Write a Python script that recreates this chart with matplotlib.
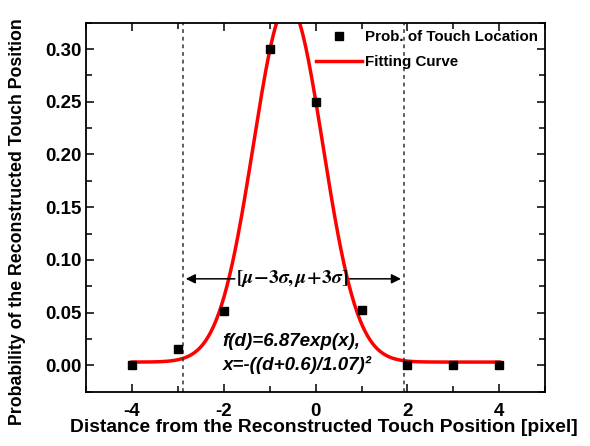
import numpy as np
import matplotlib
matplotlib.use("Agg")
import matplotlib.pyplot as plt
from matplotlib.ticker import MultipleLocator

plt.rcParams['font.family'] = ['Liberation Sans', 'DejaVu Sans']
plt.rcParams['font.weight'] = 'bold'
plt.rcParams['mathtext.fontset'] = 'stix'
plt.rcParams['axes.unicode_minus'] = False

# measured probabilities
distance = [-4, -3, -2, -1, 0, 1, 2, 3, 4]
prob = [0.0, 0.0155, 0.051, 0.30, 0.25, 0.052, 0.0, 0.0, 0.0]

# gaussian fit parameters
fit_amp = 0.34
fit_mu = -0.6
fit_w = 1.07
fit_base = 0.003

# 3 sigma bounds
bound_lo = -2.89
bound_hi = 1.92

fig = plt.figure(figsize=(5.9, 4.46), dpi=100)
ax = fig.add_axes([0.146, 0.122, 0.778, 0.827])

d = np.linspace(-4, 4, 400)
fit = fit_base + fit_amp * np.exp(-((d - fit_mu) / fit_w) ** 2)

ax.plot(distance, prob, 's', color='black', markersize=6, label='Prob. of Touch Location', zorder=3)
ax.plot(d, fit, color='red', lw=2.5, label='Fitting Curve', zorder=2)

ax.axvline(bound_lo, color='#333333', lw=1.1, linestyle=(0, (2.5, 2.5)))
ax.axvline(bound_hi, color='#333333', lw=1.1, linestyle=(0, (2.5, 2.5)))

ax.text(-0.51, 0.082, r'$[\mu\!-\!3\sigma,\mu\!+\!3\sigma]$', fontsize=14,
        ha='center', va='center')
ax.annotate('', xy=(bound_lo, 0.082), xytext=(-1.7, 0.082),
            arrowprops=dict(arrowstyle='-|>', color='black', lw=1.1, mutation_scale=14))
ax.annotate('', xy=(bound_hi, 0.082), xytext=(0.68, 0.082),
            arrowprops=dict(arrowstyle='-|>', color='black', lw=1.1, mutation_scale=14))

ax.text(-2.03, 0.0225, 'f(d)=6.87exp(x),', fontsize=13.5, fontstyle='italic',
        fontweight='bold', ha='left', va='center')
ax.text(-2.03, 0.0005, 'x=-((d+0.6)/1.07)\u00b2', fontsize=13.5, fontstyle='italic',
        fontweight='bold', ha='left', va='center')

ax.set_xlim(-5, 5)
ax.set_ylim(-0.025, 0.325)
ax.xaxis.set_major_locator(MultipleLocator(2))
ax.xaxis.set_minor_locator(MultipleLocator(1))
ax.yaxis.set_major_locator(MultipleLocator(0.05))
ax.yaxis.set_minor_locator(MultipleLocator(0.025))
ax.set_yticks([0.0, 0.05, 0.10, 0.15, 0.20, 0.25, 0.30])
ax.set_yticklabels(['0.00', '0.05', '0.10', '0.15', '0.20', '0.25', '0.30'])
ax.tick_params(which='both', direction='in', top=True, right=True, width=1.1, labelsize=13.5)
ax.tick_params(axis='x', which='major', pad=8)
ax.tick_params(which='major', length=6)
ax.tick_params(which='minor', length=4)
for s in ax.spines.values():
    s.set_linewidth(1.3)

ax.set_xlabel('Distance from the Reconstructed Touch Position [pixel]', fontsize=13.9,
              fontweight='bold', labelpad=0)
ax.xaxis.set_label_coords(0.518, -0.075)
ax.set_ylabel('Probability of the Reconstructed Touch Position', fontsize=12.8,
              fontweight='bold')
ax.yaxis.set_label_coords(-0.13, 0.46)

ax.legend(loc='upper right', frameon=False, fontsize=10.9, handlelength=3.0,
          handletextpad=0.2, borderaxespad=0.3, labelspacing=0.7, borderpad=0.2)

fig.savefig('out.png', dpi=100)
